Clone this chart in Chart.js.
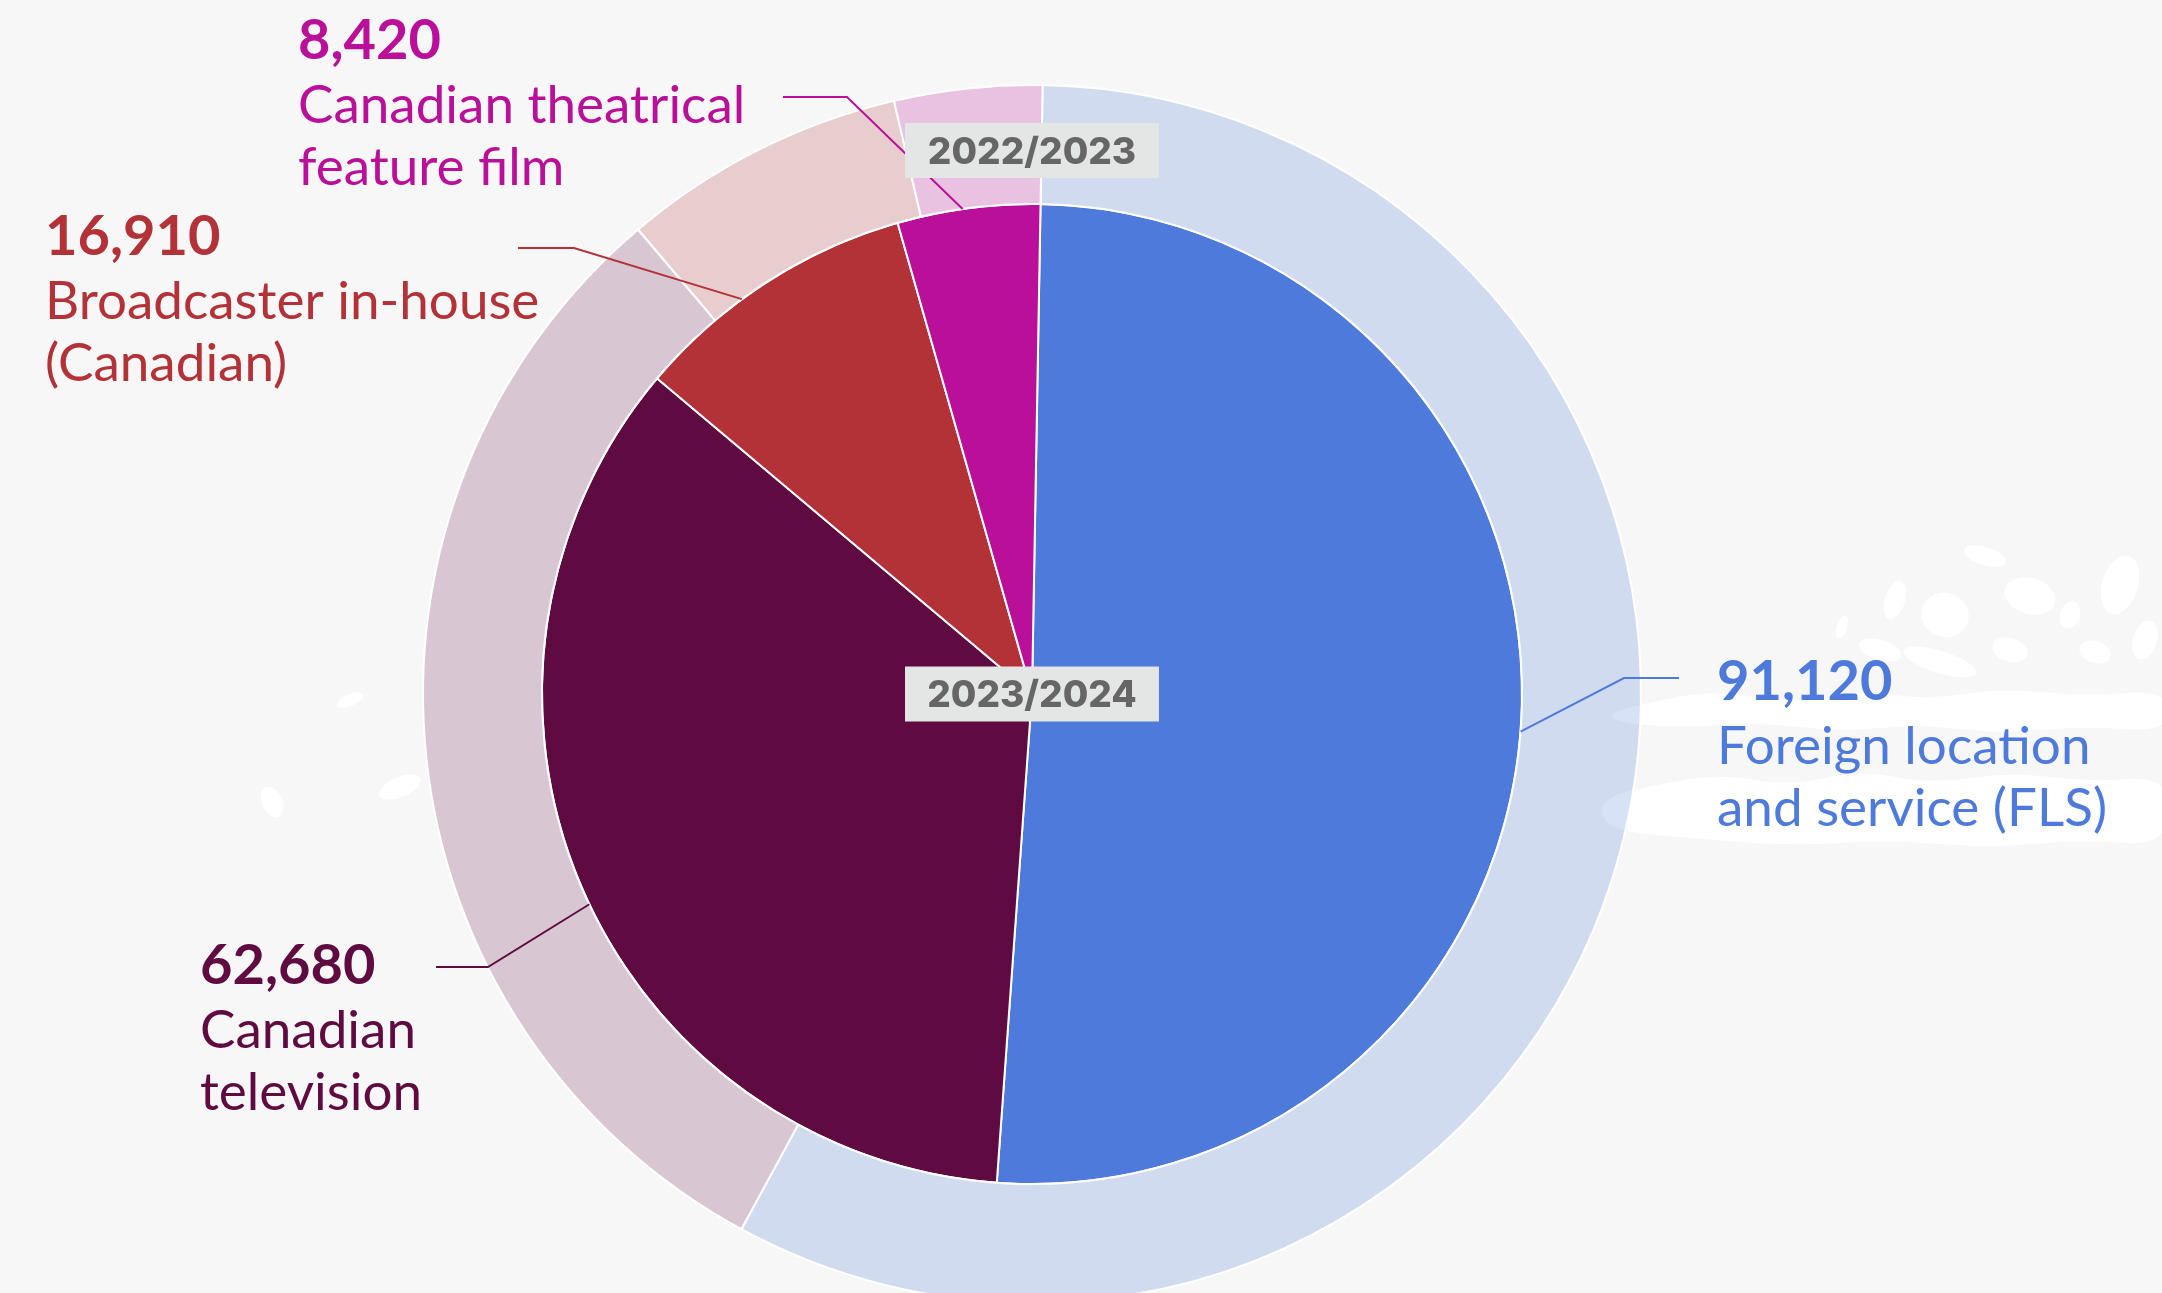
<!DOCTYPE html>
<html>
<head>
<meta charset="utf-8">
<title>Jobs by segment</title>
<script src="https://cdn.jsdelivr.net/npm/chart.js@4.4.1/dist/chart.umd.min.js"></script>
<style>
  html, body { margin: 0; padding: 0; background: #f7f7f7; overflow: hidden; }
  #wrap { position: relative; width: 2162px; height: 1330px; }
</style>
</head>
<body>
<div id="wrap"><canvas id="jobsChart"></canvas></div>
<script>
// Segments, clockwise from 12 o'clock
const categories = [
    'Foreign location and service (FLS)',
    'Canadian television',
    'Broadcaster in-house (Canadian)',
    'Canadian theatrical feature film'
];
const labelLines = [
    ['Foreign location', 'and service (FLS)'],
    ['Canadian', 'television'],
    ['Broadcaster in-house', '(Canadian)'],
    ['Canadian theatrical', 'feature film']
];
const yearLabels = ['2022/2023', '2023/2024'];

const jobs2324 = [91120, 62680, 16910, 8420];
const jobs2223 = [138330, 74130, 18130, 9400];

// Colours (outer ring = same hue, faded)
const darkColors = ['#4d7adb', '#5f0b41', '#b33238', '#b90f99'];
const lightColors = ['rgba(77,122,219,0.22)', 'rgba(95,11,65,0.2)', 'rgba(179,50,56,0.21)', 'rgba(185,15,153,0.23)'];

// Where each callout sits (text anchor, leader elbow, point along the slice)
const labelLayout = [
    { x: 1717, y: 700, lineY: 678, lineFrom: 1679, elbow: 1624, at: 0.51 },
    { x: 200, y: 984, lineY: 967, lineFrom: 436, elbow: 488, at: 0.48 },
    { x: 45, y: 255, lineY: 248, lineFrom: 518, elbow: 574, at: 0.4 },
    { x: 298, y: 59, lineY: 97, lineFrom: 783, elbow: 847, at: 0.46 }
];

// faint white map shapes behind the chart
function smoothShape(ctx, pts) {
    ctx.beginPath();
    ctx.moveTo((pts[0][0] + pts[1][0]) / 2, (pts[0][1] + pts[1][1]) / 2);
    for (let i = 1; i <= pts.length; i++) {
        const p = pts[i % pts.length];
        const n = pts[(i + 1) % pts.length];
        ctx.quadraticCurveTo(p[0], p[1], (p[0] + n[0]) / 2, (p[1] + n[1]) / 2);
    }
    ctx.closePath();
    ctx.fill();
}

const backdropPlugin = {
    id: 'backdrop',
    beforeDatasetsDraw(chart) {
        const ctx = chart.ctx;
        ctx.save();
        ctx.fillStyle = '#ffffff';
        smoothShape(ctx, [[1610, 712], [1660, 700], [1720, 690], [1790, 704], [1860, 690], [1930, 700], [2000, 688], [2080, 696], [2170, 690],
            [2170, 732], [2080, 726], [2000, 734], [1920, 724], [1840, 732], [1760, 722], [1680, 728], [1615, 722]]);
        smoothShape(ctx, [[1600, 798], [1660, 784], [1720, 774], [1790, 786], [1860, 770], [1930, 784], [2010, 772], [2090, 782], [2170, 776],
            [2170, 846], [2080, 840], [1990, 848], [1890, 840], [1790, 846], [1690, 838], [1605, 830]]);
        [[1985, 556, 22, 9], [1895, 600, 10, 20], [1945, 615, 24, 22], [2030, 596, 26, 18], [2120, 585, 18, 30],
         [1940, 662, 38, 11], [2095, 652, 16, 11], [1842, 627, 5, 12], [2145, 640, 12, 20], [1880, 650, 22, 10],
         [2010, 650, 18, 12], [2070, 615, 10, 14]].forEach(e => {
            ctx.beginPath();
            ctx.ellipse(e[0], e[1], e[2], e[3], 0.3, 0, Math.PI * 2);
            ctx.fill();
        });
        [[272, 802, 10, 16], [400, 787, 22, 10], [350, 700, 14, 6]].forEach(e => {
            ctx.beginPath();
            ctx.ellipse(e[0], e[1], e[2], e[3], -0.4, 0, Math.PI * 2);
            ctx.fill();
        });
        ctx.restore();
    }
};

// Callouts + year boxes
const calloutPlugin = {
    id: 'callouts',
    afterDatasetsDraw(chart) {
        const ctx = chart.ctx;
        const outerMeta = chart.getDatasetMeta(0);
        const innerMeta = chart.getDatasetMeta(1);

        ctx.save();
        innerMeta.data.forEach((arc, i) => {
            const p = arc.getProps(['x', 'y', 'startAngle', 'endAngle', 'outerRadius'], true);
            const lay = labelLayout[i];
            const a = p.startAngle + (p.endAngle - p.startAngle) * lay.at;
            const ex = p.x + Math.cos(a) * p.outerRadius;
            const ey = p.y + Math.sin(a) * p.outerRadius;

            ctx.strokeStyle = darkColors[i];
            ctx.lineWidth = 2;
            ctx.beginPath();
            ctx.moveTo(lay.lineFrom, lay.lineY);
            ctx.lineTo(lay.elbow, lay.lineY);
            ctx.lineTo(ex, ey);
            ctx.stroke();

            ctx.fillStyle = darkColors[i];
            ctx.textAlign = 'left';
            ctx.textBaseline = 'alphabetic';
            ctx.font = '700 56px Lato';
            ctx.fillText(jobs2324[i].toLocaleString('en-US'), lay.x, lay.y);
            ctx.font = '400 53px Lato';
            labelLines[i].forEach((line, j) => {
                ctx.fillText(line, lay.x, lay.y + 64 + j * 62);
            });
        });

        // year tags: one in the middle of the outer ring, one in the centre
        const o = outerMeta.data[0].getProps(['x', 'y', 'outerRadius', 'innerRadius'], true);
        const ringMid = (o.outerRadius + o.innerRadius) / 2 - 6;
        const tags = [
            { text: yearLabels[0], cx: o.x, cy: o.y - ringMid },
            { text: yearLabels[1], cx: o.x, cy: o.y }
        ];
        tags.forEach(t => {
            ctx.fillStyle = '#e4e6e5';
            ctx.fillRect(t.cx - 127, t.cy - 27.5, 254, 55);
            ctx.fillStyle = '#666666';
            ctx.font = '800 37px Inter';
            ctx.textAlign = 'center';
            ctx.textBaseline = 'middle';
            ctx.fillText(t.text, t.cx, t.cy + 2);
        });
        ctx.restore();
    }
};

const ctxPie = document.getElementById('jobsChart').getContext('2d');
new Chart(ctxPie, {
    type: 'pie',
    data: {
        labels: categories,
        datasets: [
            {
                label: yearLabels[0],
                data: jobs2223,
                backgroundColor: lightColors,
                borderColor: '#ffffff',
                borderWidth: 2,
                weight: 119
            },
            {
                label: yearLabels[1],
                data: jobs2324,
                backgroundColor: darkColors,
                borderColor: '#ffffff',
                borderWidth: 2,
                weight: 490
            }
        ]
    },
    options: {
        responsive: true,
        maintainAspectRatio: false,
        animation: false,
        rotation: 1,
        hoverOffset: 0,
        layout: { padding: { left: 422, top: 84, right: 520, bottom: 26 } },
        plugins: {
            legend: { display: false },
            tooltip: { enabled: false }
        }
    },
    plugins: [backdropPlugin, calloutPlugin]
});
</script>
</body>
</html>
